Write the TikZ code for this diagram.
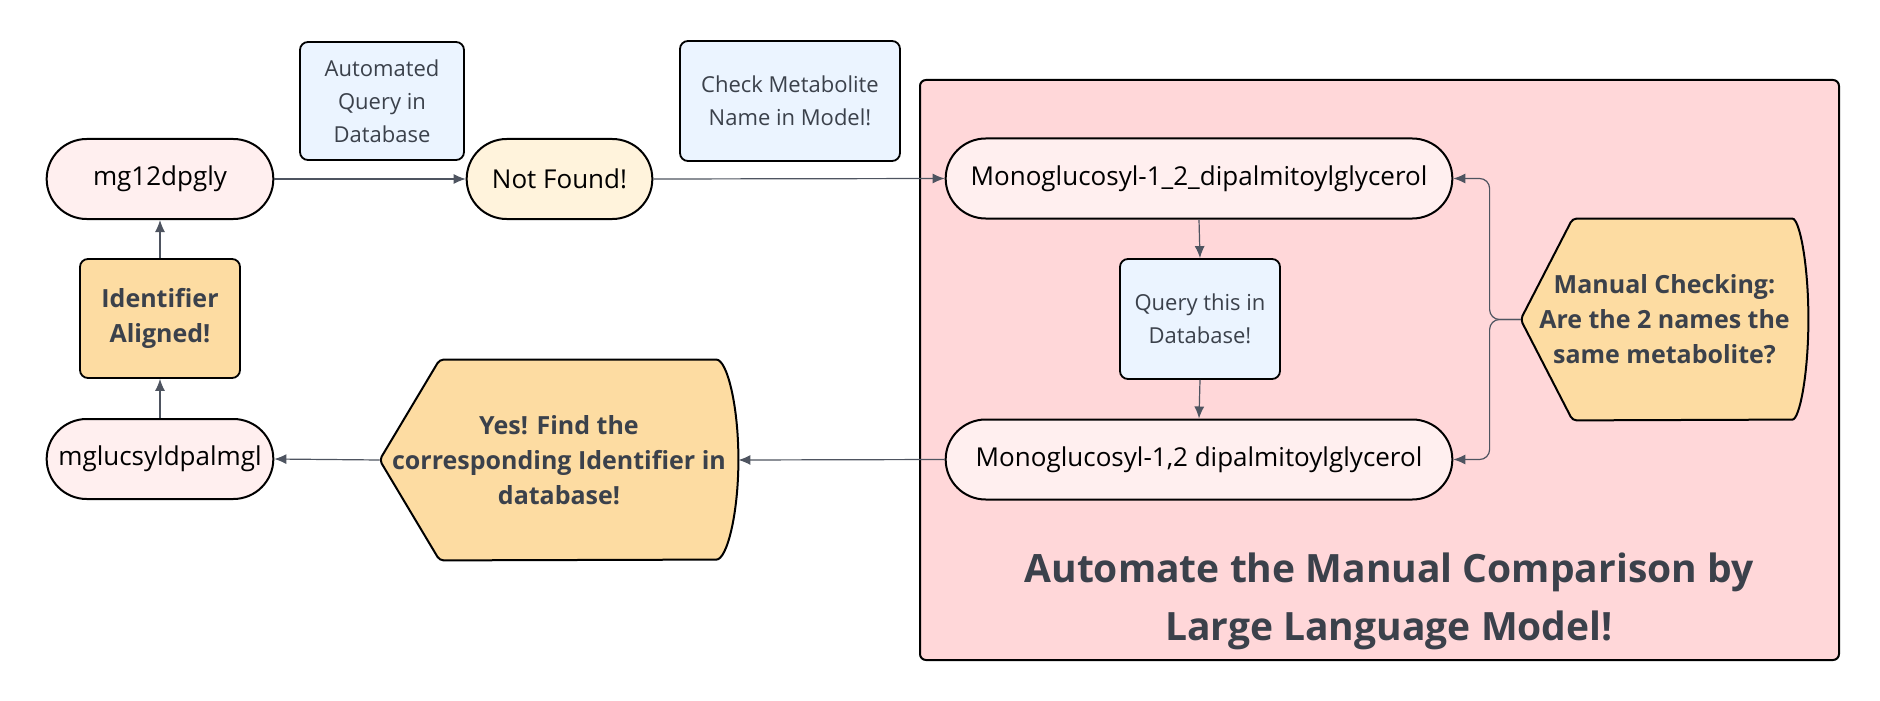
\documentclass[tikz,border=0pt]{standalone}
\usepackage{fontspec}
\setmainfont{Open Sans}
\usepackage{tikz}
\usetikzlibrary{arrows.meta}
\usetikzlibrary{shapes.misc}
\usetikzlibrary{backgrounds}

\definecolor{namefill}{HTML}{FFEFEF}
\definecolor{notfoundfill}{HTML}{FFF3DC}
\definecolor{notefill}{HTML}{EBF4FF}
\definecolor{decisionfill}{HTML}{FDDCA2}
\definecolor{llmfill}{HTML}{FFD7D9}
\definecolor{inkgray}{HTML}{3B414B}
\definecolor{linegray}{HTML}{4E5460}

\begin{document}
\begin{tikzpicture}[x=0.5pt, y=-0.5pt,
    namebox/.style={rounded rectangle, draw, line width=1pt, fill=namefill,
        minimum width=120pt, minimum height=40pt, font=\fontsize{13}{16}\selectfont},
    notebox/.style={rectangle, rounded corners=4pt, draw, line width=0.9pt, fill=notefill,
        align=center, text=inkgray, font=\fontsize{11}{16.5}\selectfont},
    decision/.style={rectangle, inner sep=0pt, align=center, text=inkgray,
        font=\fontsize{12.5}{17.5}\selectfont\bfseries},
    decisionshape/.style={draw, line width=1pt, fill=decisionfill, rounded corners=2pt},
    conn/.style={draw=linegray, line width=0.6pt, -{Latex[length=6pt, width=5pt]}}]
    \useasboundingbox (0,0) rectangle (1880,701);

    % left column
    \node[namebox] (mg12) at (160,179) {mg12dpgly};
    \node[rectangle, rounded corners=4pt, draw, line width=0.9pt, fill=decisionfill,
        minimum width=80pt, minimum height=59.5pt, align=center, text=inkgray,
        font=\fontsize{12.5}{17.5}\selectfont\bfseries] (ident) at (160,318.5) {Identifier\\Aligned!};
    \node[namebox] (mgl) at (160,459) {mglucsyldpalmgl};

    % query step
    \node[notebox, minimum width=82pt, minimum height=59pt] (autoquery) at (382,101) {Automated\\Query in\\Database};
    \node[namebox, fill=notfoundfill, minimum width=99.5pt] (notfound) at (559.5,179) {Not Found!};
    \node[notebox, minimum width=110pt, minimum height=60pt] (checkname) at (790,101) {Check Metabolite\\Name in Model!};
    \node[decision, minimum width=179pt, minimum height=100pt] (yes) at (559,460)
        {Yes! Find the\\corresponding Identifier in\\database!};

    % LLM box
    \node[namebox, minimum width=260pt] (mono1) at (1199,178.5) {Monoglucosyl-1\_2\_dipalmitoylglycerol};
    \node[notebox, minimum width=80pt, minimum height=60pt] (query) at (1200,319) {Query this in\\Database!};
    \node[namebox, minimum width=260pt] (mono2) at (1199,459.5) {Monoglucosyl-1,2 dipalmitoylglycerol};
    \node[decision, minimum width=143.5pt, minimum height=100.5pt] (manual) at (1664.5,319.5)
        {Manual Checking:\\Are the 2 names the\\same metabolite?};
    \node[align=center, text=inkgray, font=\fontsize{19.5}{29}\selectfont\bfseries] (llmtitle) at (1389,601)
        {Automate the Manual Comparison by\\Large Language Model!};

    \begin{scope}[on background layer]
        \draw[line width=1pt, fill=llmfill, rounded corners=3pt] (920,80) rectangle (1839,660);
        \draw[decisionshape] (manual.west) -- ([xshift=26pt]manual.north west) -- ([xshift=-10pt]manual.north east)
            arc[start angle=90, end angle=-90, x radius=10pt, y radius=50.25pt]
            -- ([xshift=26pt]manual.south west) -- cycle;
        \draw[decisionshape] (yes.west) -- ([xshift=30pt]yes.north west) -- ([xshift=-13pt]yes.north east)
            arc[start angle=90, end angle=-90, x radius=13pt, y radius=50pt]
            -- ([xshift=30pt]yes.south west) -- cycle;
    \end{scope}

    \draw[conn] (mg12.east) -- (notfound.west);
    \draw[conn] (notfound.east) -- (mono1.west);
    \draw[conn] (mono1.south) -- (query.north);
    \draw[conn] (query.south) -- (mono2.north);
    \draw[conn, rounded corners=5pt] (manual.west) -- ++(-31,0) |- (mono1.east);
    \draw[conn, rounded corners=5pt] (manual.west) -- ++(-31,0) |- (mono2.east);
    \draw[conn] (mono2.west) -- (yes.east);
    \draw[conn] (yes.west) -- (mgl.east);
    \draw[conn] (mgl.north) -- (ident.south);
    \draw[conn] (ident.north) -- (mg12.south);
\end{tikzpicture}
\end{document}
